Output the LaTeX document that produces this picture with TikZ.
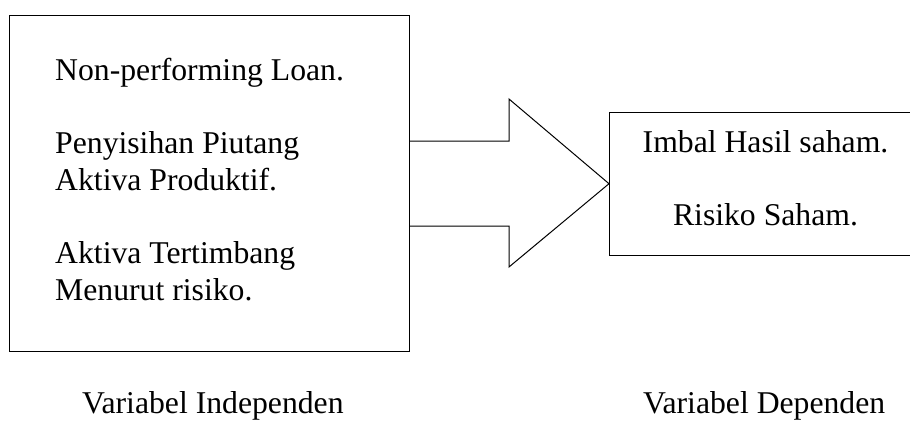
\documentclass[tikz,border=0pt]{standalone}
\usepackage{fontspec}
\setmainfont{Liberation Serif}
\usetikzlibrary{calc}
\begin{document}
\begin{tikzpicture}[x=1pt,y=-1pt,
  txt/.style={inner sep=0pt,font=\fontsize{31.7}{36.5}\selectfont},
  outline/.style={line width=1pt,black}]
\useasboundingbox (0,0) rectangle (910,421);
\clip (0,0) rectangle (910,421);
% left box
\node[draw,outline,minimum width=400pt,minimum height=336pt,inner sep=0pt,anchor=north west] (L) at (9,15) {};
% right box (open on the right, runs off the page)
\node[minimum width=320pt,minimum height=143pt,inner sep=0pt,anchor=north west] (R) at (609,112) {};
\draw[outline] (R.north east) -- (R.north west) -- (R.south west) -- (R.south east);
% arrow
\coordinate (y1) at (0,141);
\coordinate (y2) at (0,99);
\coordinate (y3) at (0,267);
\coordinate (y4) at (0,226);
\coordinate (hx) at (509,0);
\coordinate (a1) at (L.east |- y1);
\coordinate (a2) at (hx |- y1);
\coordinate (a3) at (hx |- y2);
\coordinate (a4) at (hx |- y3);
\coordinate (a5) at (hx |- y4);
\coordinate (a6) at (L.east |- y4);
\fill[white] (a1) -- (a2) -- (a3) -- (R.west) -- (a4) -- (a5) -- (a6) -- cycle;
\draw[outline,line join=miter] (a1) -- (a2) -- (a3) -- (R.west) -- (a4) -- (a5) -- (a6);
% left texts
\node[txt,anchor=base west] (t1) at (55,80) {Non-performing Loan.};
\node[txt,anchor=base west] (t2) at (55,153) {Penyisihan Piutang};
\node[txt,anchor=base west] (t3) at (55,190) {Aktiva Produktif.};
\node[txt,anchor=base west] (t4) at (55,263) {Aktiva Tertimbang};
\node[txt,anchor=base west] (t5) at (55,300) {Menurut risiko.};
% right texts
\node[txt,anchor=base] (r1) at (765.5,152) {Imbal Hasil saham.};
\node[txt,anchor=base] (r2) at (765.5,225) {Risiko Saham.};
% captions
\node[txt,anchor=base west] (c1) at (82,413) {Variabel Independen};
\node[txt,anchor=base west] (c2) at (643,413) {Variabel Dependen};
\end{tikzpicture}
\end{document}
